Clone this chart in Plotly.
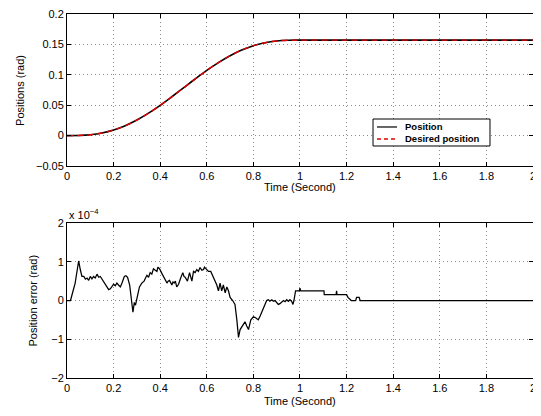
import plotly.graph_objects as go
from plotly.subplots import make_subplots

# ---- Top panel data (rad) ----
time_top = [0, 0.05, 0.1, 0.15, 0.2, 0.25, 0.3, 0.35, 0.4, 0.45, 0.5, 0.55, 0.6,
            0.65, 0.7, 0.75, 0.8, 0.85, 0.9, 0.95, 1.0, 1.5, 2.0]
position = [0, 0.0002, 0.0013, 0.0042, 0.0091, 0.0163, 0.0256, 0.0369, 0.0498,
            0.0639, 0.0785, 0.0931, 0.1072, 0.1201, 0.1314, 0.1407, 0.1479,
            0.1528, 0.1557, 0.1568, 0.157, 0.157, 0.157]
desired_position = [0, 0.0002, 0.0013, 0.0042, 0.0091, 0.0163, 0.0256, 0.0369, 0.0498,
                    0.0639, 0.0785, 0.0931, 0.1072, 0.1201, 0.1314, 0.1407, 0.1479,
                    0.1528, 0.1557, 0.1568, 0.157, 0.157, 0.157]

# ---- Bottom panel data (units of 1e-4 rad) ----
time_err = [0, 0.015, 0.035, 0.05, 0.057, 0.064, 0.072, 0.079, 0.086, 0.093, 0.1,
            0.107, 0.114, 0.121, 0.129, 0.136, 0.143, 0.15, 0.157, 0.168, 0.179,
            0.186, 0.193, 0.2, 0.207, 0.214, 0.221, 0.229, 0.236, 0.246, 0.253,
            0.26, 0.269, 0.276, 0.283, 0.289, 0.294, 0.3, 0.311, 0.321, 0.331,
            0.337, 0.343, 0.35, 0.357, 0.364, 0.371, 0.379, 0.386, 0.39, 0.397,
            0.407, 0.414, 0.421, 0.429, 0.434, 0.44, 0.45, 0.455, 0.46, 0.465,
            0.471, 0.479, 0.486, 0.497, 0.502, 0.507, 0.517, 0.526, 0.536, 0.543,
            0.55, 0.557, 0.564, 0.571, 0.579, 0.586, 0.59, 0.597, 0.607, 0.617,
            0.622, 0.629, 0.636, 0.643, 0.65, 0.657, 0.664, 0.671, 0.679, 0.686,
            0.693, 0.7, 0.711, 0.721, 0.729, 0.736, 0.743, 0.75, 0.757, 0.764,
            0.771, 0.779, 0.789, 0.8, 0.811, 0.821, 0.829, 0.836, 0.846, 0.857,
            0.864, 0.871, 0.879, 0.886, 0.893, 0.9, 0.907, 0.914, 0.921, 0.929,
            0.936, 0.943, 0.95, 0.957, 0.964, 0.97, 0.974, 0.981, 0.989, 0.997,
            1.0, 1.003, 1.103, 1.104, 1.155, 1.157, 1.159, 1.2, 1.206, 1.22,
            1.239, 1.243, 1.254, 1.258, 1.3, 1.6, 2.0]
position_error = [0, 0, 0.45, 1.02, 0.8, 0.62, 0.62, 0.55, 0.58, 0.52, 0.62,
                  0.56, 0.62, 0.58, 0.68, 0.6, 0.62, 0.55, 0.5, 0.38, 0.28,
                  0.3, 0.36, 0.42, 0.38, 0.45, 0.4, 0.35, 0.45, 0.62, 0.64,
                  0.6, 0.4, 0.0, -0.3, -0.05, -0.12, 0.05, 0.35, 0.45, 0.5,
                  0.58, 0.65, 0.6, 0.72, 0.68, 0.82, 0.78, 0.75, 0.86, 0.82,
                  0.7, 0.62, 0.55, 0.45, 0.5, 0.52, 0.4, 0.48, 0.45, 0.5,
                  0.35, 0.42, 0.55, 0.72, 0.62, 0.6, 0.5, 0.72, 0.5, 0.75,
                  0.72, 0.8, 0.75, 0.85, 0.78, 0.8, 0.86, 0.82, 0.75, 0.75,
                  0.68, 0.55, 0.5, 0.4, 0.25, 0.45, 0.25, 0.4, 0.2, 0.35,
                  0.25, 0.08, 0.0, -0.1, -0.5, -0.95, -0.75, -0.68, -0.62, -0.55,
                  -0.65, -0.75, -0.5, -0.42, -0.45, -0.5, -0.4, -0.3, -0.2, 0.0,
                  0.02, -0.02, 0.02, -0.02, 0.0, -0.05, -0.1, -0.08, -0.05, 0.0,
                  -0.03, 0.02, -0.02, 0.02, -0.02, -0.1, 0.0, 0.25, 0.25, 0.25,
                  0.32, 0.25, 0.25, 0.15, 0.15, 0.25, 0.15, 0.15, 0.08, 0.0,
                  0.0, 0.08, 0.08, 0.0, 0.0, 0.0, 0.0]

x_ticks = [0, 0.2, 0.4, 0.6, 0.8, 1, 1.2, 1.4, 1.6, 1.8, 2]
x_tick_labels = ["0", "0.2", "0.4", "0.6", "0.8", "1", "1.2", "1.4", "1.6", "1.8", "2"]
top_y_ticks = [-0.05, 0, 0.05, 0.1, 0.15, 0.2]
top_y_labels = ["\u22120.05", "0", "0.05", "0.1", "0.15", "0.2"]
err_y_ticks = [-2, -1, 0, 1, 2]
err_y_labels = ["\u22122", "\u22121", "0", "1", "2"]
legend_labels = ["Position", "Desired position"]

FONT = "Liberation Sans, Arial, Helvetica, sans-serif"
POS_STYLE = dict(color="black", width=1.6)
DES_STYLE = dict(color="#e00000", width=1.4, dash="6px,4px")

TOP_DOM = [0.5824, 1.0]
BOT_DOM = [0.0, 0.4258]

fig = make_subplots(rows=2, cols=1, vertical_spacing=0.0)

fig.add_trace(go.Scatter(x=time_top, y=position, mode="lines", name=legend_labels[0],
                         showlegend=False, line=dict(**POS_STYLE, shape="spline")),
              row=1, col=1)
fig.add_trace(go.Scatter(x=time_top, y=desired_position, mode="lines",
                         name=legend_labels[1], showlegend=False,
                         line=dict(**DES_STYLE, shape="spline")),
              row=1, col=1)
fig.add_trace(go.Scatter(x=time_err, y=position_error, mode="lines",
                         showlegend=False,
                         line=dict(color="black", width=1.25)),
              row=2, col=1)

axis_common = dict(
    showline=True, linecolor="black", linewidth=1, mirror="ticks",
    ticks="inside", ticklen=4, tickcolor="black",
    showgrid=True, gridcolor="#8c8c8c", griddash="1px,3px", gridwidth=1,
    zeroline=False, automargin=False, ticklabeloverflow="allow",
    tickfont=dict(family=FONT, size=11, color="black"),
)

fig.update_xaxes(**axis_common, range=[0, 2.0001], tickvals=x_ticks,
                 ticktext=x_tick_labels)
fig.update_yaxes(**axis_common)
fig.update_yaxes(range=[-0.05, 0.2], tickvals=top_y_ticks, ticktext=top_y_labels,
                 row=1, col=1)
fig.update_yaxes(range=[-2, 2], tickvals=err_y_ticks, ticktext=err_y_labels,
                 row=2, col=1)

# Legend box (drawn manually to match the compact MATLAB-style legend)
LX0, LX1, LY0, LY1 = 0.6567, 0.9077, 0.6374, 0.7115
SX0, SX1, TX = 0.6652, 0.7082, 0.7210
ROW_Y = [0.6896, 0.6566]
shapes = [
    dict(type="rect", xref="paper", yref="paper", x0=LX0, x1=LX1, y0=LY0, y1=LY1,
         line=dict(color="black", width=1), fillcolor="white", layer="above"),
    dict(type="line", xref="paper", yref="paper", x0=SX0, x1=SX1, y0=ROW_Y[0],
         y1=ROW_Y[0], line=dict(color="#404040", width=1.6), layer="above"),
    dict(type="line", xref="paper", yref="paper", x0=SX0, x1=SX1, y0=ROW_Y[1],
         y1=ROW_Y[1], line=dict(color="#e00000", width=1.4, dash="4px,3px"),
         layer="above"),
]

title_font = dict(family=FONT, size=11, color="black")
legend_font = dict(family=FONT, size=9.5, color="black", weight="bold")
annotations = [
    dict(text="x 10<sup>\u22124</sup>", xref="paper", yref="paper",
         x=0.0, y=BOT_DOM[1], xanchor="left", yanchor="bottom",
         showarrow=False, font=title_font),
    dict(text="Positions (rad)", xref="paper", yref="paper", textangle=-90,
         x=-0.101, y=sum(TOP_DOM) / 2, xanchor="center", yanchor="middle",
         showarrow=False, font=title_font),
    dict(text="Position error (rad)", xref="paper", yref="paper", textangle=-90,
         x=-0.075, y=sum(BOT_DOM) / 2, xanchor="center", yanchor="middle",
         showarrow=False, font=title_font),
    dict(text="Time (Second)", xref="paper", yref="paper",
         x=0.5, y=0.5247, xanchor="center", yanchor="middle",
         showarrow=False, font=title_font),
    dict(text="Time (Second)", xref="paper", yref="paper",
         x=0.5, y=-0.0632, xanchor="center", yanchor="middle",
         showarrow=False, font=title_font),
]
for label, ry in zip(legend_labels, ROW_Y):
    annotations.append(dict(text=label, xref="paper", yref="paper", x=TX, y=ry,
                            xanchor="left", yanchor="middle", showarrow=False,
                            font=legend_font))

fig.update_layout(
    width=533, height=400,
    margin=dict(l=59, r=8, t=6, b=30),
    paper_bgcolor="white", plot_bgcolor="white",
    font=dict(family=FONT, size=11, color="black"),
    showlegend=False,
    xaxis=dict(domain=[0, 1]),
    yaxis=dict(domain=TOP_DOM),
    xaxis2=dict(domain=[0, 1]),
    yaxis2=dict(domain=BOT_DOM),
    shapes=shapes,
    annotations=annotations,
)

fig.write_html("out.html")
